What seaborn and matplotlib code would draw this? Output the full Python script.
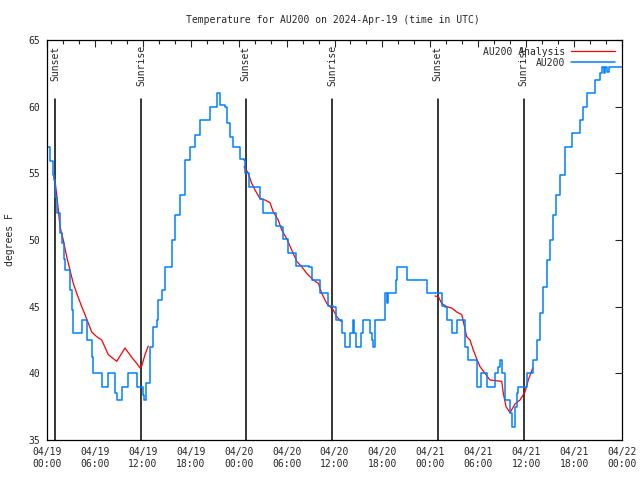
import numpy as np
import pandas as pd
import matplotlib
matplotlib.use("Agg")
import matplotlib.pyplot as plt
from matplotlib.lines import Line2D
import seaborn as sns

# ---- data (hours since 2024-04-19 00:00 UTC) ----
obs_hours = [0.0, 0.16, 0.38, 0.71, 0.88, 1.0, 1.21, 1.63, 1.84, 2.13, 2.25, 2.88, 3.09, 3.29,
             4.22, 4.35, 4.97, 5.6, 5.8, 6.76, 6.85, 7.35, 7.68, 8.51, 8.73, 9.23, 9.35, 9.89,
             10.18, 11.23, 11.31, 11.86, 12.06, 12.18, 12.4, 12.9, 13.31, 13.74, 13.94, 14.36,
             14.78, 15.15, 15.61, 16.03, 16.65, 17.28, 17.91, 18.53, 19.16, 19.78, 20.41, 21.25,
             21.66, 22.29, 22.5, 22.92, 23.25, 23.95, 24.17, 24.67, 24.79, 25.33, 26.33, 26.67,
             27.09, 28.26, 28.64, 29.26, 29.59, 30.22, 30.84, 31.14, 32.81, 33.22, 33.85, 34.19,
             34.9, 35.15, 35.85, 36.15, 36.69, 36.9, 37.32, 37.73, 37.94, 38.28, 38.44, 38.65,
             38.91, 39.28, 39.61, 40.11, 40.45, 40.66, 40.86, 41.07, 42.11, 42.32, 42.54, 42.74,
             43.36, 43.66, 43.79, 44.83, 45.04, 47.33, 47.62, 49.0, 49.42, 49.84, 50.05, 50.46,
             50.68, 51.09, 51.38, 51.93, 52.34, 52.76, 53.38, 53.88, 54.13, 54.31, 54.85, 55.13,
             55.88, 56.1, 56.51, 56.72, 56.94, 57.35, 57.98, 58.19, 58.39, 58.6, 58.82, 59.02,
             59.85, 60.07, 60.48, 60.89, 61.32, 61.73, 62.15, 62.57, 62.99, 63.36, 63.74, 64.24,
             64.87, 65.7, 66.33, 66.74, 67.16, 67.58, 67.99, 68.62, 69.0, 69.2, 69.46, 69.7,
             69.9, 70.1, 70.4, 72.0]
obs_temp = [57, 57, 55.9, 54.9, 54.5, 53.2, 52, 50.5, 49.8, 48.6, 47.75, 46.25, 44.75, 43,
            43, 44, 42.5, 41.25, 40, 40, 39, 39, 40, 38.5, 38, 38, 39, 39,
            40, 40, 39, 39, 38.4, 38, 39.3, 42, 43.5, 44, 45.5, 46.25,
            48, 48, 50, 51.9, 53.4, 56, 57, 57.9, 59, 59, 60, 61.05,
            60.1, 60, 58.75, 57.75, 57, 57, 56.1, 56, 55, 54, 54, 53.1,
            52.05, 52, 51.05, 51, 50.05, 49.05, 49, 48.05, 48, 47, 47, 46,
            46, 45.07, 45, 44, 44, 43, 42, 42, 43, 44, 43, 42,
            42, 43, 44, 44, 43, 42.5, 42, 44, 44, 46, 45.3, 46,
            46, 47, 48, 48, 47, 47, 46, 46, 45.05, 45, 44, 44,
            43.05, 43, 44, 44, 42, 41, 41, 39, 39, 40, 40, 39,
            39, 40, 40.5, 41, 40, 38, 37, 36, 36, 37.5, 38.5, 39,
            39, 40, 40, 41, 42.5, 44.5, 46.5, 48.5, 50, 51.9, 53.4, 54.9,
            57, 58, 58, 59, 60, 61, 61, 62, 62, 62.5, 63, 62.5,
            63, 62.6, 63, 63]

ana_seg1_hours = [0.79, 1.0, 1.21, 1.42, 1.63, 2.04, 2.47, 2.67, 3.29, 3.72, 4.35, 4.76, 5.6,
                  6.22, 6.85, 7.68, 8.1, 8.73, 9.77, 10.61, 11.23, 11.65, 11.86, 12.27, 12.68]
ana_seg1_temp = [54.9, 54.5, 53.4, 52.25, 51, 50, 48.75, 48.25, 46.75, 46, 45, 44.4, 43.1,
                 42.75, 42.5, 41.4, 41.2, 40.9, 41.9, 41.2, 40.75, 40.4, 40.55, 41.4, 42.05]
ana_seg2_hours = [24.67, 25.21, 25.63, 26.05, 26.67, 27.3, 27.92, 28.34, 28.96, 29.39, 30.02,
                  30.64, 31.27, 31.89, 32.52, 33.35, 33.97, 34.4, 35.02, 35.85, 36.28, 36.81]
ana_seg2_temp = [55.5, 55, 54.25, 53.75, 53.1, 53, 52.8, 52.1, 51.5, 50.75, 50.1,
                 49.25, 48.4, 48, 47.5, 47, 46.75, 46, 45.25, 44.75, 44.25, 43.9]
ana_seg3_hours = [48.58, 49.0, 49.42, 50.05, 50.68, 51.3, 51.93, 52.13, 52.55, 52.97, 53.38,
                  53.8, 54.22, 54.85, 55.47, 56.94, 57.14, 57.48, 57.98, 58.6, 59.23, 59.85,
                  60.27, 60.82]
ana_seg3_temp = [45.8, 45.75, 45.25, 45, 44.9, 44.6, 44.4, 43.9, 42.75, 42.5, 41.75,
                 41.1, 40.5, 40, 39.5, 39.4, 38.5, 37.5, 37.05, 37.7, 38, 38.6,
                 39.5, 40.4]

sun_hours = [1.0, 11.77, 24.9, 35.7, 48.9, 59.7]
sun_labels = ["Sunset", "Sunrise", "Sunset", "Sunrise", "Sunset", "Sunrise"]

tick_hours = list(range(0, 73, 6))
tick_labels = ["04/19\n00:00", "04/19\n06:00", "04/19\n12:00", "04/19\n18:00",
               "04/20\n00:00", "04/20\n06:00", "04/20\n12:00", "04/20\n18:00",
               "04/21\n00:00", "04/21\n06:00", "04/21\n12:00", "04/21\n18:00",
               "04/22\n00:00"]

title = "Temperature for AU200 on 2024-Apr-19 (time in UTC)"
series_names = ["AU200 Analysis", "AU200"]

# ---- build frames ----
obs_df = pd.DataFrame({"hour": obs_hours, "temp": obs_temp})
ana_df = pd.concat([
    pd.DataFrame({"hour": ana_seg1_hours, "temp": ana_seg1_temp, "seg": 1}),
    pd.DataFrame({"hour": ana_seg2_hours, "temp": ana_seg2_temp, "seg": 2}),
    pd.DataFrame({"hour": ana_seg3_hours, "temp": ana_seg3_temp, "seg": 3}),
], ignore_index=True)

sns.set_style("white")
plt.rcParams["font.family"] = ["DejaVu Sans Mono", "DejaVu Sans"]
plt.rcParams["font.size"] = 7

fig = plt.figure(figsize=(6.4, 4.8), dpi=100)
ax = fig.add_axes([47 / 640, 40 / 480, 575 / 640, 400 / 480])

red = "#ff0000"
blue = "#0080ff"

sns.lineplot(data=ana_df, x="hour", y="temp", units="seg", estimator=None,
             color=red, lw=0.9, sort=False, ax=ax, legend=False)
sns.lineplot(data=obs_df, x="hour", y="temp", color=blue, lw=1.1, sort=False,
             ax=ax, legend=False, drawstyle="steps-post")

for h, lab in zip(sun_hours, sun_labels):
    ax.plot([h, h], [35, 60.6], color="black", lw=1.1, zorder=1)
    ax.text(h, 64.6, lab, rotation=90, ha="center", va="top", fontsize=7)

ax.set_xlim(0, 72)
ax.set_ylim(35, 65)
ax.set_xticks(tick_hours)
ax.set_xticklabels(tick_labels)
ax.set_xticks(list(range(0, 73, 2)), minor=True)
ax.set_yticks([35, 40, 45, 50, 55, 60, 65])
ax.tick_params(axis="both", which="both", direction="in", top=True, right=True,
               labelsize=7, pad=5)
ax.tick_params(axis="both", which="major", length=5, width=0.8)
ax.tick_params(axis="both", which="minor", length=3, width=0.8)
for sp in ax.spines.values():
    sp.set_color("black")
    sp.set_linewidth(0.9)

ax.set_xlabel("")
ax.set_ylabel("")
fig.text(10 / 640, 0.5, "degrees F", rotation=90, ha="center", va="center", fontsize=7)
fig.text(333 / 640, 1 - 20 / 480, title, ha="center", va="center", fontsize=7)

handles = [Line2D([], [], color=red, lw=0.9), Line2D([], [], color=blue, lw=1.1)]
ax.legend(handles, series_names, loc="upper right", frameon=False, markerfirst=False,
          fontsize=7, handlelength=4.5, handletextpad=0.6, borderaxespad=0.3,
          labelspacing=0.1)

fig.savefig("out.png", dpi=100)
